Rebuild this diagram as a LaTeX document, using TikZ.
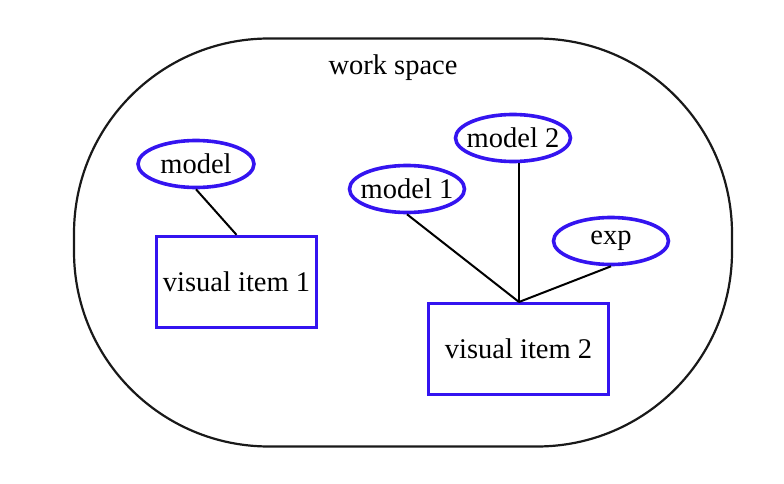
\documentclass[tikz,border=0pt]{standalone}
\usepackage{fontspec}
\setmainfont{Liberation Serif}
\usetikzlibrary{shapes.geometric}
\definecolor{sketchblue}{RGB}{52,20,240}
\tikzset{
  x=1pt, y=-1pt,
  every node/.style={font=\fontsize{28.5}{34}\selectfont, inner sep=0pt},
  modelnode/.style={ellipse, draw=sketchblue, line width=3.6pt, inner xsep=-6pt,
     minimum width=#1, minimum height=47pt},
  itembox/.style={rectangle, draw=sketchblue, line width=3.4pt},
  link/.style={draw=black, line width=2pt},
  spacebox/.style={draw=black!90, line width=2.2pt, rounded corners=195pt}
}
\begin{document}
\begin{tikzpicture}
\useasboundingbox (0,0) rectangle (784,484);
% workspace
\node[spacebox, minimum width=658pt, minimum height=408pt] (ws) at (403,242.5) {};
\node (wslabel) at (393,68) {work space};
% left group
\node[modelnode=116pt] (m) at (196,164) {model};
\node[itembox, minimum width=160pt, minimum height=91pt] (v1) at (236.5,282) {visual item 1};
% right group
\node[modelnode=115pt] (m2) at (513,138) {model 2};
\node[modelnode=115pt] (m1) at (407,189) {model 1};
\node[modelnode=115pt] (e) at (611,241) {exp};
\node[itembox, minimum width=180pt, minimum height=91pt] (v2) at (518.5,349) {visual item 2};
\coordinate (j) at (519,302);
% connectors
\draw[link] (m.south) -- (v1.north);
\draw[link] (m1.south) -- (j);
\draw[link] (m2.south -| j) -- (j);
\draw[link] (e.south) -- (j);
\end{tikzpicture}
\end{document}
